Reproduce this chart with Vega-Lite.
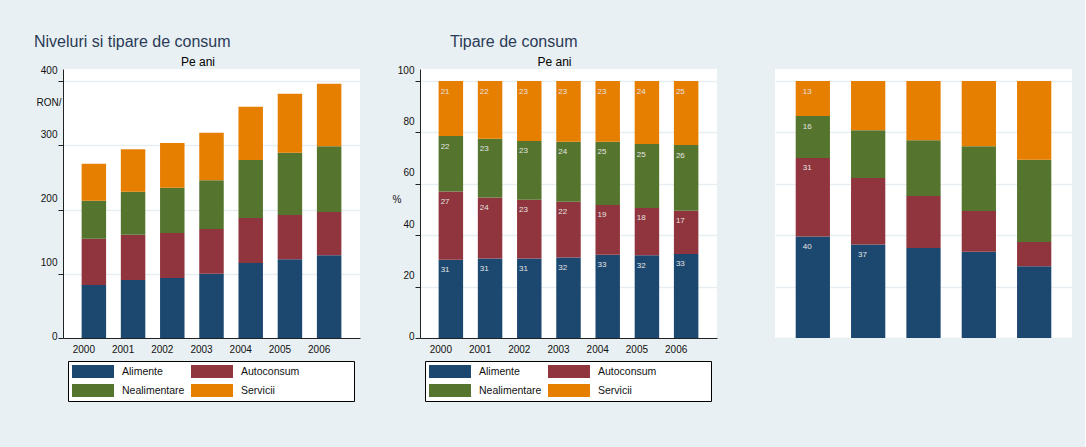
{
  "$schema": "https://vega.github.io/schema/vega-lite/v6.json",
  "background": "#e8f0f3",
  "padding": {"left": 34, "top": 34, "right": 13, "bottom": 55},
  "datasets": {
    "abs": [
      {"g": "2000", "cat": "Alimente", "o": 1, "v": 82.5},
      {"g": "2000", "cat": "Autoconsum", "o": 2, "v": 72.1},
      {"g": "2000", "cat": "Nealimentare", "o": 3, "v": 59.1},
      {"g": "2000", "cat": "Servicii", "o": 4, "v": 57.6},
      {"g": "2001", "cat": "Alimente", "o": 1, "v": 90.3},
      {"g": "2001", "cat": "Autoconsum", "o": 2, "v": 70.5},
      {"g": "2001", "cat": "Nealimentare", "o": 3, "v": 66.9},
      {"g": "2001", "cat": "Servicii", "o": 4, "v": 66.0},
      {"g": "2002", "cat": "Alimente", "o": 1, "v": 93.4},
      {"g": "2002", "cat": "Autoconsum", "o": 2, "v": 70.0},
      {"g": "2002", "cat": "Nealimentare", "o": 3, "v": 70.5},
      {"g": "2002", "cat": "Servicii", "o": 4, "v": 69.6},
      {"g": "2003", "cat": "Alimente", "o": 1, "v": 100.1},
      {"g": "2003", "cat": "Autoconsum", "o": 2, "v": 69.5},
      {"g": "2003", "cat": "Nealimentare", "o": 3, "v": 75.8},
      {"g": "2003", "cat": "Servicii", "o": 4, "v": 74.2},
      {"g": "2004", "cat": "Alimente", "o": 1, "v": 116.7},
      {"g": "2004", "cat": "Autoconsum", "o": 2, "v": 70.1},
      {"g": "2004", "cat": "Nealimentare", "o": 3, "v": 90.2},
      {"g": "2004", "cat": "Servicii", "o": 4, "v": 83.0},
      {"g": "2005", "cat": "Alimente", "o": 1, "v": 122.5},
      {"g": "2005", "cat": "Autoconsum", "o": 2, "v": 68.9},
      {"g": "2005", "cat": "Nealimentare", "o": 3, "v": 97.0},
      {"g": "2005", "cat": "Servicii", "o": 4, "v": 91.9},
      {"g": "2006", "cat": "Alimente", "o": 1, "v": 128.7},
      {"g": "2006", "cat": "Autoconsum", "o": 2, "v": 67.4},
      {"g": "2006", "cat": "Nealimentare", "o": 3, "v": 102.2},
      {"g": "2006", "cat": "Servicii", "o": 4, "v": 97.5}
    ],
    "pct": [
      {"g": "2000", "cat": "Alimente", "o": 1, "v": 30.5, "lab": "31"},
      {"g": "2000", "cat": "Autoconsum", "o": 2, "v": 26.5, "lab": "27"},
      {"g": "2000", "cat": "Nealimentare", "o": 3, "v": 21.6, "lab": "22"},
      {"g": "2000", "cat": "Servicii", "o": 4, "v": 21.4, "lab": "21"},
      {"g": "2001", "cat": "Alimente", "o": 1, "v": 30.9, "lab": "31"},
      {"g": "2001", "cat": "Autoconsum", "o": 2, "v": 23.8, "lab": "24"},
      {"g": "2001", "cat": "Nealimentare", "o": 3, "v": 22.9, "lab": "23"},
      {"g": "2001", "cat": "Servicii", "o": 4, "v": 22.4, "lab": "22"},
      {"g": "2002", "cat": "Alimente", "o": 1, "v": 30.9, "lab": "31"},
      {"g": "2002", "cat": "Autoconsum", "o": 2, "v": 22.9, "lab": "23"},
      {"g": "2002", "cat": "Nealimentare", "o": 3, "v": 22.9, "lab": "23"},
      {"g": "2002", "cat": "Servicii", "o": 4, "v": 23.3, "lab": "23"},
      {"g": "2003", "cat": "Alimente", "o": 1, "v": 31.3, "lab": "32"},
      {"g": "2003", "cat": "Autoconsum", "o": 2, "v": 21.7, "lab": "22"},
      {"g": "2003", "cat": "Nealimentare", "o": 3, "v": 23.4, "lab": "24"},
      {"g": "2003", "cat": "Servicii", "o": 4, "v": 23.6, "lab": "23"},
      {"g": "2004", "cat": "Alimente", "o": 1, "v": 32.4, "lab": "33"},
      {"g": "2004", "cat": "Autoconsum", "o": 2, "v": 19.4, "lab": "19"},
      {"g": "2004", "cat": "Nealimentare", "o": 3, "v": 24.6, "lab": "25"},
      {"g": "2004", "cat": "Servicii", "o": 4, "v": 23.6, "lab": "23"},
      {"g": "2005", "cat": "Alimente", "o": 1, "v": 32.2, "lab": "32"},
      {"g": "2005", "cat": "Autoconsum", "o": 2, "v": 18.4, "lab": "18"},
      {"g": "2005", "cat": "Nealimentare", "o": 3, "v": 24.9, "lab": "25"},
      {"g": "2005", "cat": "Servicii", "o": 4, "v": 24.5, "lab": "24"},
      {"g": "2006", "cat": "Alimente", "o": 1, "v": 32.7, "lab": "33"},
      {"g": "2006", "cat": "Autoconsum", "o": 2, "v": 16.8, "lab": "17"},
      {"g": "2006", "cat": "Nealimentare", "o": 3, "v": 25.6, "lab": "26"},
      {"g": "2006", "cat": "Servicii", "o": 4, "v": 24.9, "lab": "25"}
    ],
    "q": [
      {"g": "c1", "cat": "Alimente", "o": 1, "v": 39.5, "lab": "40"},
      {"g": "c1", "cat": "Autoconsum", "o": 2, "v": 30.6, "lab": "31"},
      {"g": "c1", "cat": "Nealimentare", "o": 3, "v": 16.3, "lab": "16"},
      {"g": "c1", "cat": "Servicii", "o": 4, "v": 13.6, "lab": "13"},
      {"g": "c2", "cat": "Alimente", "o": 1, "v": 36.4, "lab": "37"},
      {"g": "c2", "cat": "Autoconsum", "o": 2, "v": 25.9, "lab": null},
      {"g": "c2", "cat": "Nealimentare", "o": 3, "v": 18.6, "lab": null},
      {"g": "c2", "cat": "Servicii", "o": 4, "v": 19.1, "lab": null},
      {"g": "c3", "cat": "Alimente", "o": 1, "v": 35.0, "lab": null},
      {"g": "c3", "cat": "Autoconsum", "o": 2, "v": 20.3, "lab": null},
      {"g": "c3", "cat": "Nealimentare", "o": 3, "v": 21.7, "lab": null},
      {"g": "c3", "cat": "Servicii", "o": 4, "v": 23.0, "lab": null},
      {"g": "c4", "cat": "Alimente", "o": 1, "v": 33.6, "lab": null},
      {"g": "c4", "cat": "Autoconsum", "o": 2, "v": 15.8, "lab": null},
      {"g": "c4", "cat": "Nealimentare", "o": 3, "v": 25.2, "lab": null},
      {"g": "c4", "cat": "Servicii", "o": 4, "v": 25.4, "lab": null},
      {"g": "c5", "cat": "Alimente", "o": 1, "v": 27.9, "lab": null},
      {"g": "c5", "cat": "Autoconsum", "o": 2, "v": 9.5, "lab": null},
      {"g": "c5", "cat": "Nealimentare", "o": 3, "v": 32.0, "lab": null},
      {"g": "c5", "cat": "Servicii", "o": 4, "v": 30.6, "lab": null}
    ]
  },
  "resolve": {"scale": {"color": "independent"}, "legend": {"color": "independent"}},
  "hconcat": [
    {
      "title": {"text": "Niveluri si tipare de consum", "anchor": "start", "dx": -2, "fontSize": 16, "fontWeight": "normal", "color": "#2b3a57", "offset": 6},
      "resolve": {"scale": {"color": "independent"}, "legend": {"color": "independent"}},
      "vconcat": [
        {
          "title": {"text": "Pe ani", "anchor": "middle", "frame": "bounds", "fontSize": 12, "fontWeight": "normal", "color": "#000000", "offset": -4},
          "width": 297,
          "height": 269,
          "data": {"name": "abs"},
          "transform": [{"stack": "v", "groupby": ["g"], "sort": [{"field": "o"}], "as": ["v0", "v1"]}],
          "mark": {"type": "bar"},
          "encoding": {
            "x": {"field": "g", "type": "ordinal", "scale": {"paddingInner": 0.376, "paddingOuter": 0.475},
              "axis": {"title": null, "labelAngle": 0, "ticks": false, "labelPadding": 6, "labelOffset": -10, "grid": false}},
            "y": {"field": "v1", "type": "quantitative", "scale": {"domain": [0, 418.7], "nice": false},
              "axis": {"title": "RON/", "titleAngle": 0, "titleX": -27, "titleY": 33, "titleAlign": "left", "titleBaseline": "middle",
                "values": [0, 100, 200, 300, 400], "tickSize": 5, "labelPadding": 1, "grid": true,
                "labelOffset": {"condition": {"test": "datum.value === 0", "value": -2}, "value": -11}}},
            "y2": {"field": "v0"},
            "color": {"field": "cat", "type": "nominal",
              "scale": {"domain": ["Alimente", "Autoconsum", "Nealimentare", "Servicii"], "range": ["#1c4870", "#90353d", "#55752f", "#e67e00"]},
              "legend": {"orient": "none", "legendX": 5, "legendY": 292, "direction": "horizontal", "columns": 2,
                "title": "XXXXXXX", "titleOrient": "right", "titleColor": "transparent", "titleFontSize": 10, "titlePadding": 4,
                "symbolType": "M-1,-1H5.46V1H-1Z", "symbolSize": 169, "symbolStrokeWidth": 0, "symbolOpacity": 1,
                "labelOffset": 37, "labelFontSize": 10.5, "labelColor": "#111111", "columnPadding": 6, "rowPadding": 6, "padding": 4,
                "strokeColor": "#000000", "fillColor": "#ffffff"}}
          }
        }
      ]
    },
    {
      "title": {"text": "Tipare de consum", "anchor": "start", "dx": 58, "fontSize": 16, "fontWeight": "normal", "color": "#2b3a57", "offset": 6},
      "resolve": {"scale": {"color": "independent"}, "legend": {"color": "independent"}},
      "vconcat": [
        {
          "title": {"text": "Pe ani", "anchor": "middle", "frame": "bounds", "fontSize": 12, "fontWeight": "normal", "color": "#000000", "offset": -4},
          "width": 297,
          "height": 269,
          "data": {"name": "pct"},
          "transform": [{"stack": "v", "groupby": ["g"], "sort": [{"field": "o"}], "as": ["v0", "v1"]}],
          "encoding": {
            "x": {"field": "g", "type": "ordinal", "scale": {"paddingInner": 0.376, "paddingOuter": 0.475},
              "axis": {"title": null, "labelAngle": 0, "ticks": false, "labelPadding": 6, "labelOffset": -10, "grid": false}}
          },
          "layer": [
            {
              "mark": {"type": "bar"},
              "encoding": {
                "y": {"field": "v1", "type": "quantitative", "scale": {"domain": [0, 104.7], "nice": false},
                  "axis": {"title": "%", "titleAngle": 0, "titleX": -28, "titleY": 130, "titleAlign": "left", "titleBaseline": "middle",
                    "values": [0, 20, 40, 60, 80, 100], "tickSize": 5, "labelPadding": 1, "grid": true,
                    "labelOffset": {"condition": {"test": "datum.value === 0", "value": -2}, "value": -11}}},
                "y2": {"field": "v0"},
                "color": {"field": "cat", "type": "nominal",
                  "scale": {"domain": ["Alimente", "Autoconsum", "Nealimentare", "Servicii"], "range": ["#1c4870", "#90353d", "#55752f", "#e67e00"]},
                  "legend": {"orient": "none", "legendX": 5, "legendY": 292, "direction": "horizontal", "columns": 2,
                    "title": "XXXXXXX", "titleOrient": "right", "titleColor": "transparent", "titleFontSize": 10, "titlePadding": 4,
                    "symbolType": "M-1,-1H5.46V1H-1Z", "symbolSize": 169, "symbolStrokeWidth": 0, "symbolOpacity": 1,
                    "labelOffset": 37, "labelFontSize": 10.5, "labelColor": "#111111", "columnPadding": 6, "rowPadding": 6, "padding": 4,
                    "strokeColor": "#000000", "fillColor": "#ffffff"}}
              }
            },
            {
              "transform": [{"filter": "datum.lab != null"}],
              "mark": {"type": "text", "align": "left", "baseline": "middle", "dx": 2, "dy": 10.5, "fontSize": 8, "color": "#e4e4e4"},
              "encoding": {
                "x": {"field": "g", "type": "ordinal", "bandPosition": 0},
                "y": {"field": "v1", "type": "quantitative"},
                "text": {"field": "lab"}
              }
            }
          ]
        }
      ]
    },
    {
      "title": {"text": "Tipare", "anchor": "start", "fontSize": 16, "fontWeight": "normal", "color": "transparent", "offset": 6},
      "resolve": {"scale": {"color": "independent"}, "legend": {"color": "independent"}},
      "vconcat": [
        {
          "title": {"text": "Pe ani", "anchor": "middle", "frame": "bounds", "fontSize": 12, "fontWeight": "normal", "color": "transparent", "offset": -4},
          "width": 297,
          "height": 269,
          "data": {"name": "q"},
          "transform": [{"stack": "v", "groupby": ["g"], "sort": [{"field": "o"}], "as": ["v0", "v1"]}],
          "encoding": {
            "x": {"field": "g", "type": "ordinal", "scale": {"paddingInner": 0.381, "paddingOuter": 0.374}, "axis": null}
          },
          "layer": [
            {
              "mark": {"type": "bar"},
              "encoding": {
                "y": {"field": "v1", "type": "quantitative", "scale": {"domain": [0, 104.7], "nice": false},
                  "axis": {"title": "%", "titleAngle": 0, "titleX": -25.5, "titleY": 130, "titleAlign": "left", "titleBaseline": "middle", "titleColor": "transparent",
                    "values": [0, 20, 40, 60, 80, 100], "tickSize": 5, "labelPadding": 1, "grid": true, "domain": false,
                    "tickColor": "transparent", "labelColor": "transparent",
                    "labelOffset": {"condition": {"test": "datum.value === 0", "value": -2}, "value": -11}}},
                "y2": {"field": "v0"},
                "color": {"field": "cat", "type": "nominal",
                  "scale": {"domain": ["Alimente", "Autoconsum", "Nealimentare", "Servicii"], "range": ["#1c4870", "#90353d", "#55752f", "#e67e00"]},
                  "legend": null}
              }
            },
            {
              "transform": [{"filter": "datum.lab != null"}],
              "mark": {"type": "text", "align": "left", "baseline": "middle", "dx": 7, "dy": 10.5, "fontSize": 8, "color": "#e4e4e4"},
              "encoding": {
                "x": {"field": "g", "type": "ordinal", "bandPosition": 0},
                "y": {"field": "v1", "type": "quantitative"},
                "text": {"field": "lab"}
              }
            }
          ]
        }
      ]
    }
  ],
  "config": {
    "font": "Liberation Sans",
    "view": {"fill": "#ffffff", "stroke": null},
    "concat": {"spacing": 32},
    "axis": {"labelFont": "Liberation Sans", "labelFontSize": 10, "labelColor": "#111111", "domainColor": "#222222", "tickColor": "#222222",
      "gridColor": "#e6eef1", "gridWidth": 1.5, "titleFont": "Liberation Sans", "titleFontSize": 10, "titleFontWeight": "normal", "titleColor": "#111111"},
    "title": {"font": "Liberation Sans"},
    "legend": {"labelFont": "Liberation Sans"}
  }
}
